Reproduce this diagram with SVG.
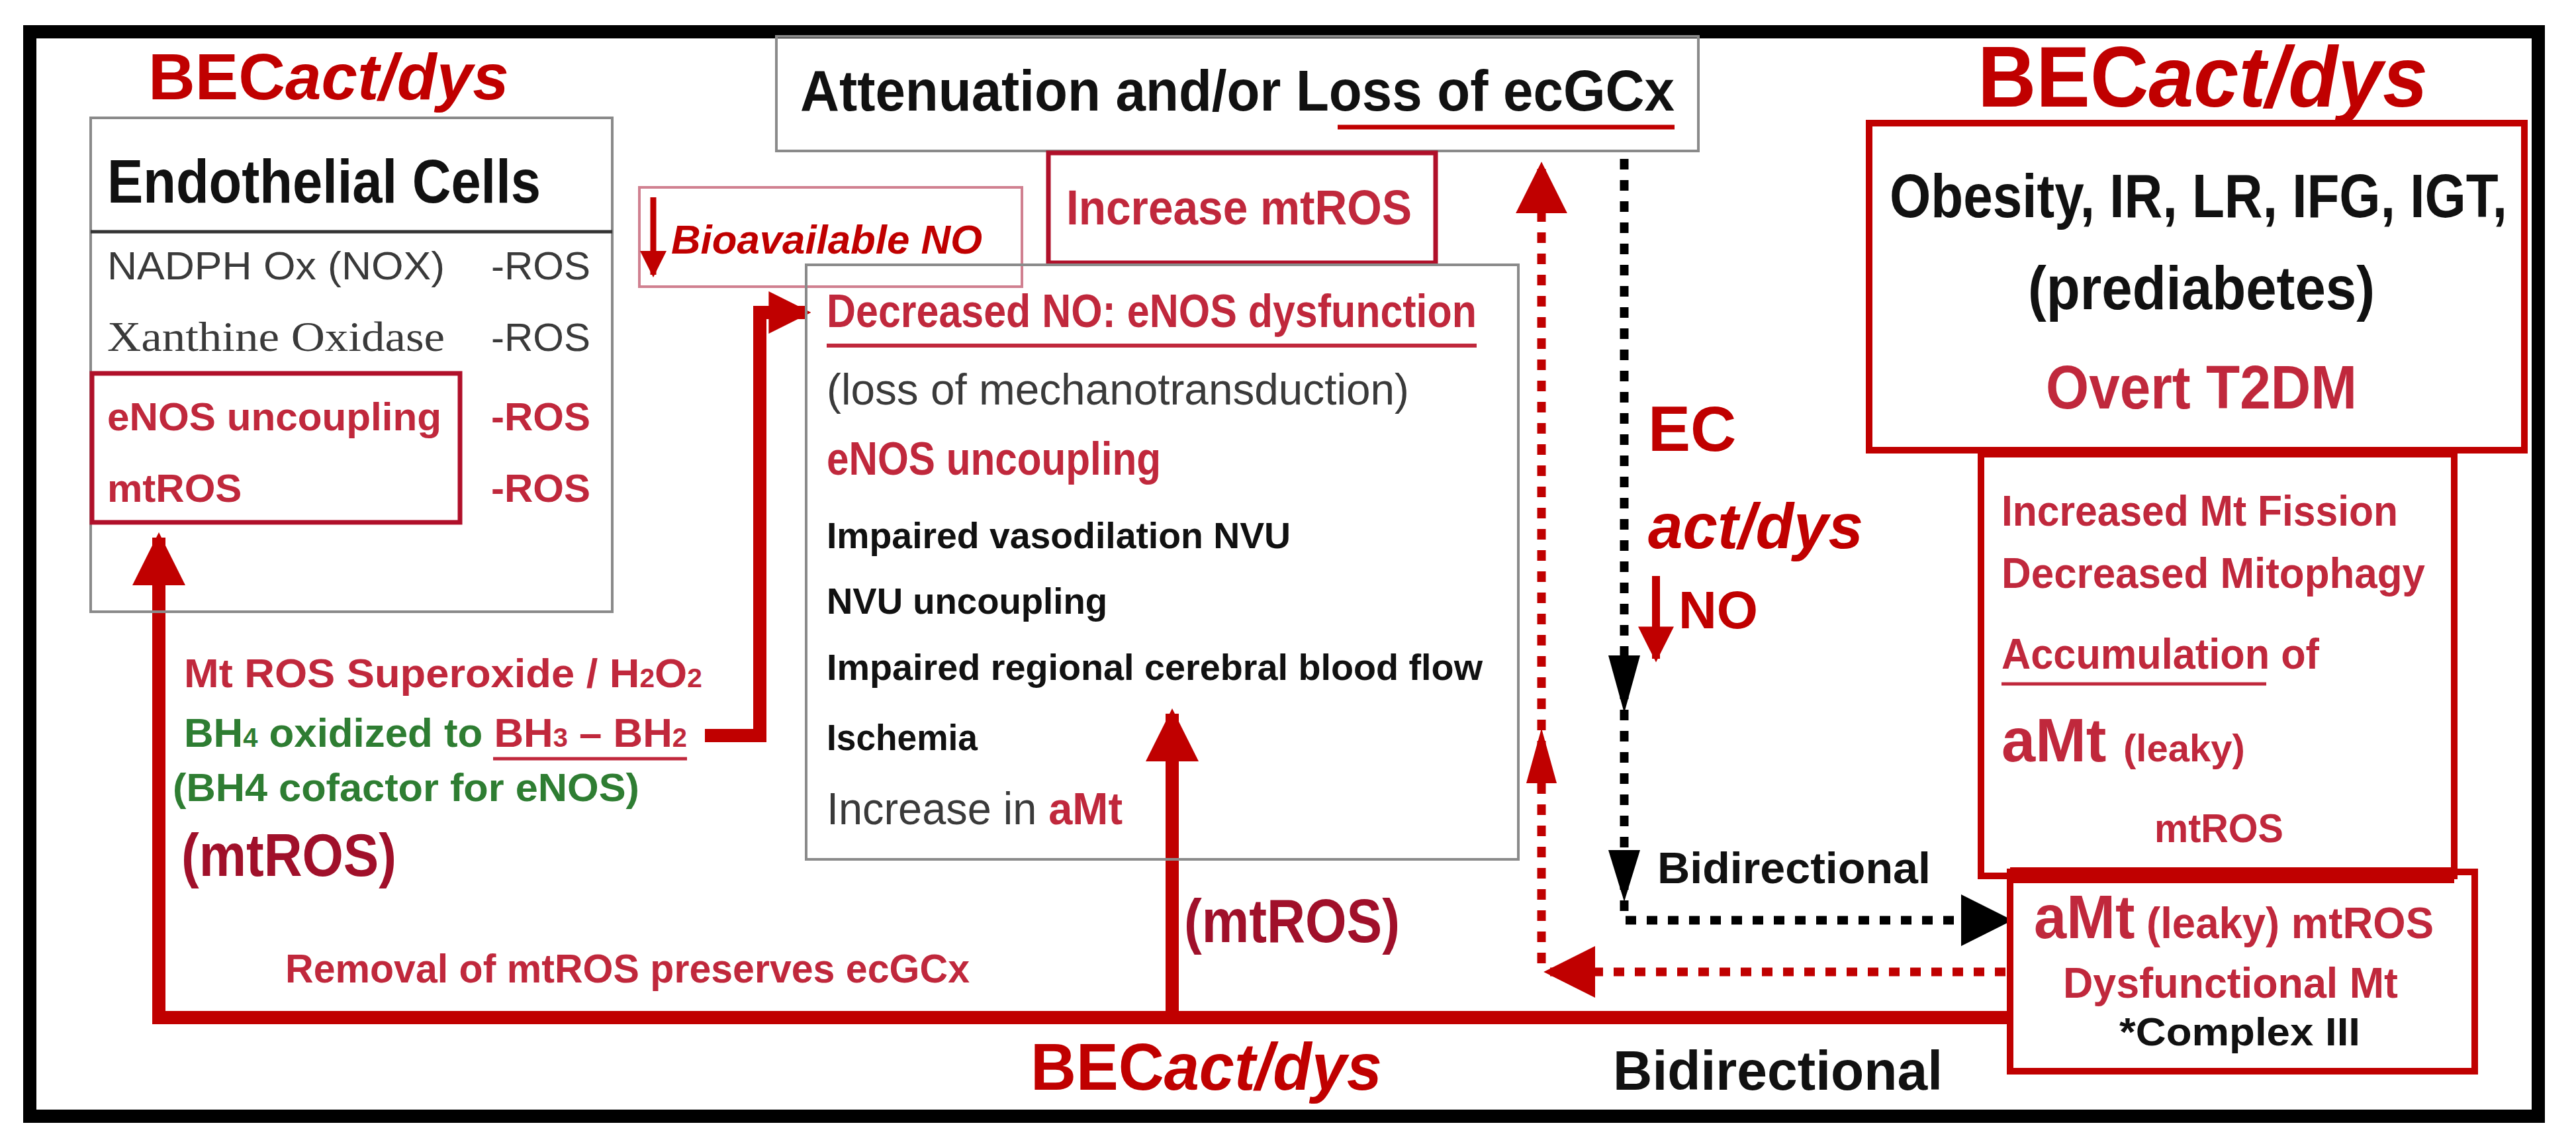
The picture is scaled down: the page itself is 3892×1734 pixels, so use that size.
<svg xmlns="http://www.w3.org/2000/svg" width="3892" height="1734" viewBox="0 0 3892 1734">
<style>
text{font-family:"Liberation Sans",Arial,sans-serif;font-weight:bold}
.red{fill:#c00000}.mred{fill:#c0283c}.gray{fill:#3a3a3a;font-weight:normal}.blk{fill:#111}.grn{fill:#2e7d32}
.it{font-style:italic}
.box{fill:none;stroke:#8a8a8a;stroke-width:4}
.rbox{fill:none;stroke:#b0102a;stroke-width:7}
.dbox{fill:none;stroke:#c00000;stroke-width:10}
.rl{fill:none;stroke:#c00000;stroke-width:20}
.rd{fill:none;stroke:#c00000;stroke-width:13;stroke-dasharray:16 16}
.bd{fill:none;stroke:#000;stroke-width:13;stroke-dasharray:16 16}
</style>
<defs>
<marker id="ra" viewBox="0 0 10 10" refX="9" refY="5" markerWidth="4" markerHeight="4" orient="auto" markerUnits="strokeWidth"><path d="M0,0L10,5L0,10z" fill="#c00000"/></marker>
<marker id="rs" viewBox="0 0 10 10" refX="9" refY="5" markerWidth="4.5" markerHeight="4.5" orient="auto" markerUnits="strokeWidth"><path d="M0,0L10,5L0,10z" fill="#c00000"/></marker>
<marker id="rm" viewBox="0 0 10 10" refX="9" refY="5" markerWidth="3.2" markerHeight="3.2" orient="auto" markerUnits="strokeWidth"><path d="M0,0L10,5L0,10z" fill="#c00000"/></marker>
<marker id="ba" viewBox="0 0 10 10" refX="9" refY="5" markerWidth="6" markerHeight="6" orient="auto" markerUnits="strokeWidth"><path d="M0,0L10,5L0,10z" fill="#000"/></marker>
<marker id="rd" viewBox="0 0 10 10" refX="9" refY="5" markerWidth="6" markerHeight="6" orient="auto" markerUnits="strokeWidth"><path d="M0,0L10,5L0,10z" fill="#c00000"/></marker>
</defs>
<rect width="3892" height="1734" fill="#fff"/>
<rect x="45" y="48" width="3790" height="1638" fill="none" stroke="#000" stroke-width="20"/>

<g id="connectors">
<path class="rl" d="M3033,1537H240V812" marker-end="url(#ra)"/>
<path class="rl" d="M1771,1537V1078" marker-end="url(#ra)" stroke-width="16"/>
<path class="rl" d="M1065,1111H1148V472H1219" stroke-width="12" marker-end="url(#rm)"/>
<path class="rd" d="M3030,1468H2340" marker-end="url(#rd)"/>
<path class="rd" d="M2329,1455V252" marker-end="url(#rd)"/>
<polygon points="2329,1100 2306,1183 2352,1183" fill="#c00000"/>
<path class="bd" d="M2454,240V1390H3033" marker-end="url(#ba)"/>
<polygon points="2454,1077 2430,990 2478,990" fill="#000"/>
<polygon points="2454,1362 2430,1284 2478,1284" fill="#000"/>
<path d="M2502,870V995" stroke="#c00000" stroke-width="12" marker-end="url(#rs)" fill="none"/>
</g>

<g id="t-bec1"><text x="224" y="150" font-size="98" class="red">BEC<tspan class="it">act/dys</tspan></text></g>
<g id="t-bec2"><text x="2988" y="161" font-size="130" class="red" textLength="680" lengthAdjust="spacingAndGlyphs">BEC<tspan class="it">act/dys</tspan></text></g>
<g id="t-bec3"><text x="1557" y="1646" font-size="100" class="red" textLength="531" lengthAdjust="spacingAndGlyphs">BEC<tspan class="it">act/dys</tspan></text></g>

<g id="endothelial">
<rect x="137" y="178" width="788" height="746" fill="#fff" class="box"/>
<line x1="137" y1="350" x2="925" y2="350" stroke="#333" stroke-width="5"/>
<text x="162" y="306" font-size="92" class="blk" textLength="655" lengthAdjust="spacingAndGlyphs">Endothelial Cells</text>
<text x="162" y="422" font-size="60" class="gray" textLength="510" lengthAdjust="spacingAndGlyphs">NADPH Ox  (NOX)</text>
<text x="742" y="422" font-size="60" class="gray">-ROS</text>
<text x="162" y="530" font-size="64" class="gray" style="font-family:'Liberation Serif',serif" textLength="510" lengthAdjust="spacingAndGlyphs">Xanthine Oxidase</text>
<text x="742" y="530" font-size="60" class="gray">-ROS</text>
<rect x="139" y="564" width="556" height="225" class="rbox"/>
<text x="162" y="650" font-size="60" class="mred" textLength="505" lengthAdjust="spacingAndGlyphs">eNOS uncoupling</text>
<text x="742" y="650" font-size="60" class="mred">-ROS</text>
<text x="162" y="758" font-size="60" class="mred">mtROS</text>
<text x="742" y="758" font-size="60" class="mred">-ROS</text>
</g>

<g id="bioavailable">
<rect x="966" y="283" width="578" height="150" fill="none" stroke="#d08090" stroke-width="4"/>
<path d="M987,298V415" stroke="#c00000" stroke-width="9" marker-end="url(#rs)"/>
<text x="1014" y="383" font-size="62" class="red it" textLength="470" lengthAdjust="spacingAndGlyphs">Bioavailable NO</text>
</g>

<g id="attenuation">
<rect x="1173" y="55" width="1393" height="173" fill="#fff" class="box"/>
<text x="1209" y="167" font-size="88" class="blk" textLength="1321" lengthAdjust="spacingAndGlyphs">Attenuation and/or Loss of ecGCx</text>
<line x1="2021" y1="192" x2="2530" y2="192" stroke="#c00000" stroke-width="7"/>
</g>

<g id="increase-mtros">
<rect x="1584" y="231" width="585" height="166" class="rbox"/>
<text x="1611" y="339" font-size="74" class="mred" textLength="522" lengthAdjust="spacingAndGlyphs">Increase mtROS</text>
</g>

<g id="main-box">
<rect x="1218" y="400" width="1076" height="898" class="box"/>
<text x="1249" y="494" font-size="70" class="mred" textLength="982" lengthAdjust="spacingAndGlyphs">Decreased NO: eNOS dysfunction</text>
<line x1="1249" y1="522" x2="2231" y2="522" stroke="#c0283c" stroke-width="6"/>
<text x="1249" y="611" font-size="66" class="gray" textLength="880" lengthAdjust="spacingAndGlyphs">(loss of mechanotransduction)</text>
<text x="1249" y="717" font-size="70" class="mred" textLength="505" lengthAdjust="spacingAndGlyphs">eNOS uncoupling</text>
<text x="1249" y="828" font-size="56" class="blk" textLength="701" lengthAdjust="spacingAndGlyphs">Impaired vasodilation NVU</text>
<text x="1249" y="927" font-size="56" class="blk" textLength="424" lengthAdjust="spacingAndGlyphs">NVU uncoupling</text>
<text x="1249" y="1027" font-size="56" class="blk" textLength="991" lengthAdjust="spacingAndGlyphs">Impaired regional cerebral blood flow</text>
<text x="1249" y="1133" font-size="56" class="blk" textLength="228" lengthAdjust="spacingAndGlyphs">Ischemia</text>
<text x="1249" y="1245" font-size="68" class="gray" textLength="447" lengthAdjust="spacingAndGlyphs">Increase in <tspan class="mred" font-weight="bold">aMt</tspan></text>
</g>

<g id="left-labels">
<text x="278" y="1038" font-size="62" class="mred" textLength="783" lengthAdjust="spacingAndGlyphs">Mt ROS Superoxide / H<tspan font-size="40">2</tspan>O<tspan font-size="40">2</tspan></text>
<text x="278" y="1128" font-size="62" class="grn" textLength="760" lengthAdjust="spacingAndGlyphs">BH<tspan font-size="40">4</tspan> oxidized to <tspan class="mred">BH<tspan font-size="40">3</tspan> – BH<tspan font-size="40">2</tspan></tspan></text>
<line x1="745" y1="1146" x2="1038" y2="1146" stroke="#c0283c" stroke-width="5"/>
<text x="261" y="1210" font-size="60" class="grn" textLength="705" lengthAdjust="spacingAndGlyphs">(BH4 cofactor for eNOS)</text>
<text x="274" y="1323" font-size="90" fill="#a0102a" textLength="325" lengthAdjust="spacingAndGlyphs">(mtROS)</text>
<text x="431" y="1484" font-size="62" class="mred" textLength="1034" lengthAdjust="spacingAndGlyphs">Removal of mtROS preserves ecGCx</text>
<text x="1789" y="1423" font-size="92" fill="#a0102a" textLength="326" lengthAdjust="spacingAndGlyphs">(mtROS)</text>
</g>

<g id="ec-label">
<text x="2490" y="681" font-size="96" class="red">EC</text>
<text x="2490" y="828" font-size="96" class="red it" textLength="325" lengthAdjust="spacingAndGlyphs">act/dys</text>
<text x="2536" y="949" font-size="80" class="red">NO</text>
</g>

<g id="bidirectional">
<text x="2504" y="1334" font-size="66" class="blk" textLength="413" lengthAdjust="spacingAndGlyphs">Bidirectional</text>
<text x="2437" y="1646" font-size="84" class="blk" textLength="498" lengthAdjust="spacingAndGlyphs">Bidirectional</text>
</g>

<g id="obesity">
<rect x="2824" y="186" width="990" height="494" fill="#fff" class="dbox"/>
<text x="2855" y="328" font-size="92" class="blk" textLength="933" lengthAdjust="spacingAndGlyphs">Obesity, IR, LR, IFG, IGT,</text>
<text x="3326" y="467" font-size="92" class="blk" text-anchor="middle" textLength="524" lengthAdjust="spacingAndGlyphs">(prediabetes)</text>
<text x="3326" y="617" font-size="92" class="mred" text-anchor="middle" textLength="470" lengthAdjust="spacingAndGlyphs">Overt T2DM</text>
</g>

<g id="mito">
<rect x="2993" y="686" width="715" height="637" fill="#fff" class="dbox"/>
<text x="3024" y="794" font-size="64" class="mred" textLength="599" lengthAdjust="spacingAndGlyphs">Increased Mt Fission</text>
<text x="3024" y="888" font-size="64" class="mred" textLength="640" lengthAdjust="spacingAndGlyphs">Decreased Mitophagy</text>
<text x="3024" y="1010" font-size="64" class="mred" textLength="480" lengthAdjust="spacingAndGlyphs">Accumulation of</text>
<line x1="3024" y1="1033" x2="3424" y2="1033" stroke="#c0283c" stroke-width="5"/>
<text x="3024" y="1150" font-size="92" class="mred">aMt <tspan font-size="58">(leaky)</tspan></text>
<text x="3255" y="1272" font-size="62" class="mred" textLength="195" lengthAdjust="spacingAndGlyphs">mtROS</text>
</g>

<g id="amt">
<rect x="3037" y="1317" width="702" height="301" fill="#fff" class="dbox"/>
<line x1="3037" y1="1322" x2="3708" y2="1322" stroke="#c00000" stroke-width="24"/>
<text x="3073" y="1417" font-size="66" class="mred" textLength="604" lengthAdjust="spacingAndGlyphs"><tspan font-size="92">aMt</tspan> (leaky) mtROS</text>
<text x="3117" y="1507" font-size="64" class="mred" textLength="506" lengthAdjust="spacingAndGlyphs">Dysfunctional Mt</text>
<text x="3202" y="1579" font-size="60" class="blk" textLength="364" lengthAdjust="spacingAndGlyphs">*Complex III</text>
</g>
</svg>
